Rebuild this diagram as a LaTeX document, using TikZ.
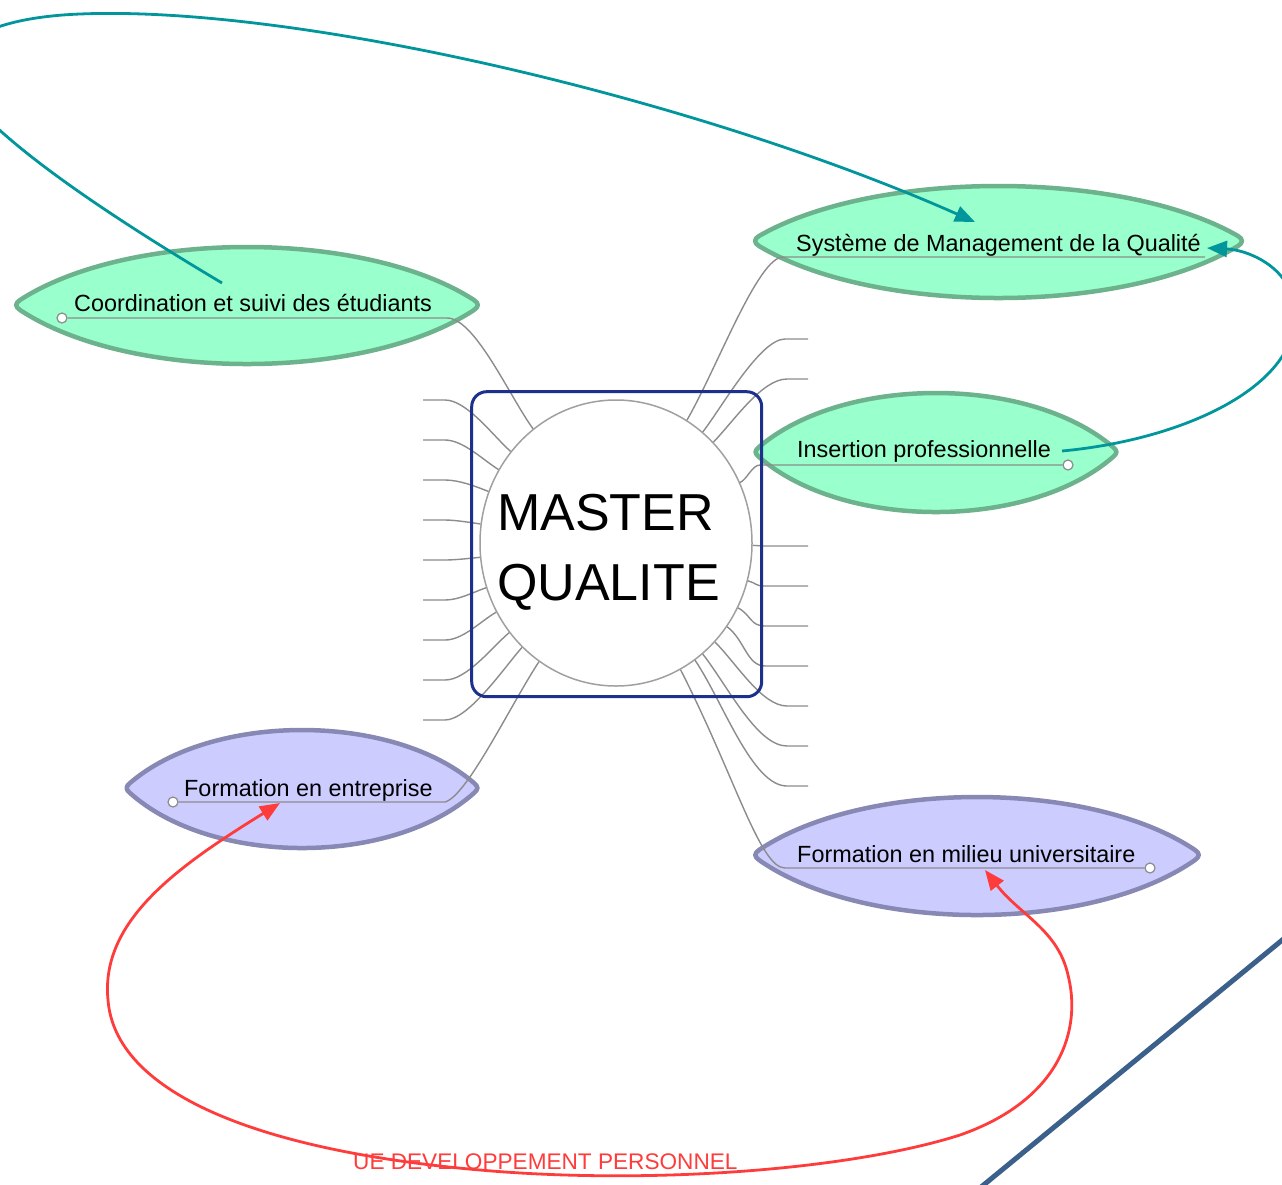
\documentclass[tikz,border=0pt]{standalone}
\usepackage{fontspec}
\setmainfont{Liberation Sans}
\usetikzlibrary{arrows.meta,shapes.geometric}
\definecolor{leafG}{RGB}{153,255,204}
\definecolor{leafGb}{RGB}{108,178,140}
\definecolor{leafP}{RGB}{204,204,255}
\definecolor{leafPb}{RGB}{136,136,180}
\definecolor{tealA}{RGB}{0,150,155}
\definecolor{redA}{RGB}{255,60,60}
\definecolor{frameB}{RGB}{28,48,140}
\definecolor{diagB}{RGB}{60,96,140}
\definecolor{connG}{RGB}{140,140,140}
\definecolor{ellG}{RGB}{160,160,160}
% #1 style, #2 xl, #3 xr, #4 yc, #5 ytop, #6 ybottom
\newcommand{\leafshape}[6]{%
  \pgfmathsetmacro{\lfw}{#3-#2}%
  \pgfmathsetmacro{\lfa}{#2+8}%
  \pgfmathsetmacro{\lfb}{#3-8}%
  \pgfmathsetmacro{\lfca}{#2+0.25*\lfw}%
  \pgfmathsetmacro{\lfcb}{#3-0.25*\lfw}%
  \pgfmathsetmacro{\lfyt}{#4-5}%
  \pgfmathsetmacro{\lfyb}{#4+5}%
  \pgfmathsetmacro{\lfkt}{(#5-0.25*\lfyt)/0.75}%
  \pgfmathsetmacro{\lfkb}{(#6-0.25*\lfyb)/0.75}%
  \pgfmathsetmacro{\lfdx}{(\lfb-\lfcb)/10}%
  \pgfmathsetmacro{\lfdy}{(\lfyt-\lfkt)/10}%
  \pgfmathsetmacro{\lfn}{sqrt(\lfdx*\lfdx+\lfdy*\lfdy)}%
  \pgfmathsetmacro{\lfux}{6*\lfdx/\lfn}%
  \pgfmathsetmacro{\lfuy}{6*\lfdy/\lfn}%
  \pgfmathsetmacro{\lfey}{(\lfkb-\lfyb)/10}%
  \pgfmathsetmacro{\lfm}{sqrt(\lfdx*\lfdx+\lfey*\lfey)}%
  \pgfmathsetmacro{\lfvx}{6*\lfdx/\lfm}%
  \pgfmathsetmacro{\lfvy}{6*\lfey/\lfm}%
  \path[#1] (\lfa,\lfyt) .. controls (\lfca,\lfkt) and (\lfcb,\lfkt) .. (\lfb,\lfyt)
     .. controls ({\lfb+\lfux},{\lfyt+\lfuy}) and ({\lfb+\lfvx},{\lfyb-\lfvy}) .. (\lfb,\lfyb)
     .. controls (\lfcb,\lfkb) and (\lfca,\lfkb) .. (\lfa,\lfyb)
     .. controls ({\lfa-\lfvx},{\lfyb-\lfvy}) and ({\lfa-\lfux},{\lfyt+\lfuy}) .. cycle;%
}
\tikzset{
  lbl/.style={font=\fontsize{23.4}{28}\selectfont, inner sep=0pt, anchor=base west, text=black},
  conn/.style={draw=connG, line width=1.4pt},
  dotnode/.style={circle, draw=connG, fill=white, line width=1.2pt, minimum size=10pt, inner sep=0pt},
  tealarrow/.style={draw=tealA, line width=2.8pt, -{Triangle[length=20pt,width=16pt]}},
  redarrow/.style={draw=redA, line width=2.8pt, {Triangle[length=20pt,width=16pt]}-{Triangle[length=20pt,width=16pt]}},
  greenleaf/.style={fill=leafG, draw=leafGb, line width=4.5pt},
  purpleleaf/.style={fill=leafP, draw=leafPb, line width=4.5pt},
}
\begin{document}
\begin{tikzpicture}[x=1pt,y=-1pt,line join=round]
\useasboundingbox (0,0) rectangle (1282,1184);
\clip (0,0) rectangle (1282,1184);
\fill[white] (0,0) rectangle (1282,1184);

% leaves
\leafshape{greenleaf}{12}{482}{305}{247}{364}
\leafshape{greenleaf}{751}{1246}{241}{186}{298}
\leafshape{greenleaf}{751}{1121}{452}{393}{512}
\leafshape{purpleleaf}{122}{482}{788}{730}{848}
\leafshape{purpleleaf}{751}{1203}{855}{797}{915}

% central circle
\node[ellipse, draw=ellG, fill=white, line width=1.5pt, minimum width=272pt, minimum height=286pt, inner sep=0pt] (core) at (616,543) {};

% stubs left
\foreach \a/\yy/\la/\lb in {139/400/22/22,148/440/18/18,158/480/14/14,172/520/10/10,186/560/10/10,199/600/14/14,210/640/18/18,220/680/22/22,228/720/24/24}
  \draw[conn] (core.\a) .. controls +({\la*cos(\a)},{-\la*sin(\a)}) and +(\lb,0) .. (445,\yy) -- (423,\yy);
% stubs right
\foreach \a/\yy/\xh/\la/\lb in {52/339/785/30/25,46/379/787/30/25,359/546/765/5/5,344/586/765/10/10,332/626/765/15/15,323/666/765/22/18,315/706/787/30/25,308/746/787/40/30,304/786/787/50/35}
  \draw[conn] (core.\a) .. controls +({\la*cos(\a)},{-\la*sin(\a)}) and +(-\lb,0) .. (\xh,\yy) -- (808,\yy);

% dots
\node[dotnode] (cdot) at (62,318) {};
\node[dotnode] (idot) at (1068,465) {};
\node[dotnode] (edot) at (173,802) {};
\node[dotnode] (mdot) at (1150,868) {};

% connectors to topics
\draw[conn] (core.126) .. controls +({40*cos(126)},{-40*sin(126)}) and +(28,0) .. (447,318) -- (cdot);
\draw[conn] (core.60) .. controls +({60*cos(60)},{-60*sin(60)}) and +(-25,0) .. (783,257) -- (1205,257);
\draw[conn] (core.26) .. controls +(7,-3) and +(-8,0) .. (760,465) -- (idot);
\draw[conn] (core.237) .. controls +({55*cos(237)},{-55*sin(237)}) and +(22,-6) .. (445,802) -- (edot);
\draw[conn] (core.297) .. controls +({120*cos(297)},{-120*sin(297)}) and +(-25,0) .. (785,868) -- (mdot);

% frame
\node[draw=frameB, line width=3pt, rounded corners=15pt, minimum width=290pt, minimum height=305pt, inner sep=0pt] (frame) at (616.7,544.2) {};

% texts
\node[font=\fontsize{52}{60}\selectfont, inner sep=0pt, anchor=base west] (mA) at (497,530) {MASTER};
\node[font=\fontsize{52}{60}\selectfont, inner sep=0pt, anchor=base west] (mQ) at (497,600) {QUALITE};
\node[lbl] (tCoord) at (74,311) {Coordination et suivi des étudiants};
\node[lbl] (tSys) at (796,251) {Système de Management de la Qualité};
\node[lbl] (tIns) at (797,457) {Insertion professionnelle};
\node[lbl] (tEnt) at (184,796) {Formation en entreprise};
\node[lbl] (tMil) at (797,862) {Formation en milieu universitaire};

% teal arrows
\coordinate (aS) at (222,283);
\coordinate (aE) at (975,222);
\draw[tealarrow] (aS) .. controls (150,240) and (20,160) .. (-30,100) .. controls (-70,50) and (-20,18) .. (80,14) .. controls (300,5) and (700,100) .. (aE);
\coordinate (bS) at (1062,451);
\coordinate (bE) at (1207,248);
\draw[tealarrow] (bS) .. controls (1180,440) and (1290,390) .. (1295,320) .. controls (1298,270) and (1250,250) .. (bE);

% red arrow
\coordinate (rA) at (280,803);
\coordinate (rB) at (985,870);
\draw[redarrow] (rA) .. controls (180,865) and (100,920) .. (108,1000) .. controls (115,1090) and (250,1150) .. (480,1170) .. controls (650,1185) and (850,1170) .. (960,1135) .. controls (1060,1100) and (1082,1030) .. (1068,975) .. controls (1058,930) and (1020,915) .. (rB);
\node[font=\fontsize{22.6}{27}\selectfont, text=redA, inner sep=0pt, anchor=base west] (ue) at (353,1169) {UE DEVELOPPEMENT PERSONNEL};

% diagonal line
\coordinate (dg1) at (1292,932);
\coordinate (dg2) at (975,1192);
\draw[diagB, line width=5pt] (dg1) -- (dg2);
\end{tikzpicture}
\end{document}
